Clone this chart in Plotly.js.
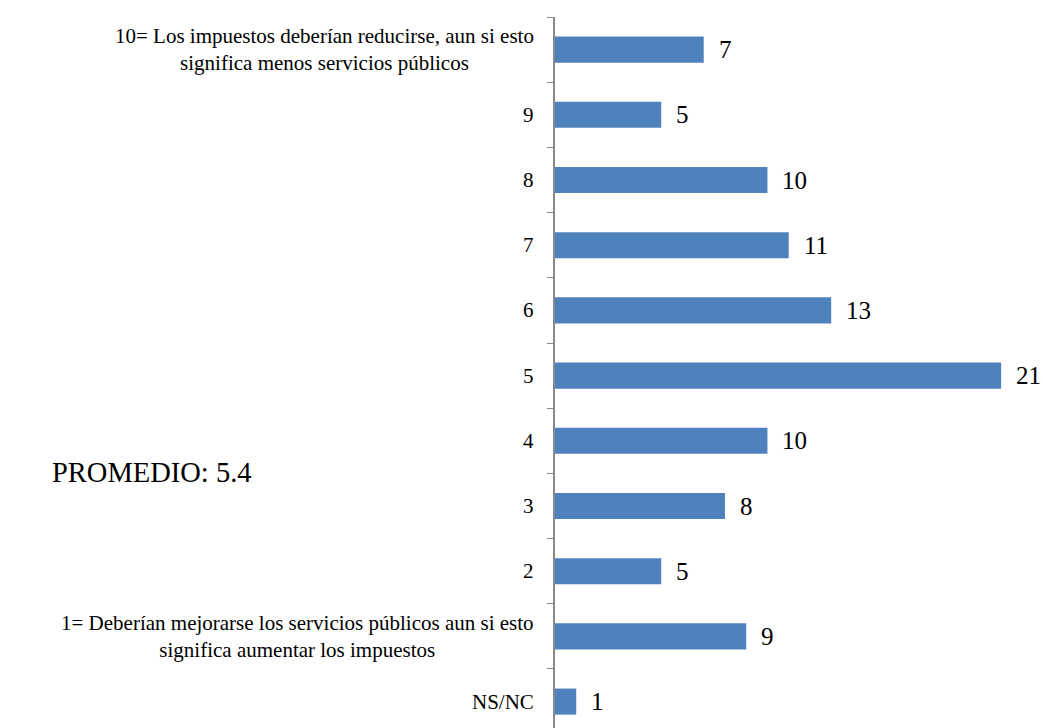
<!DOCTYPE html>
<html>
<head>
<meta charset="utf-8">
<script src="https://cdn.plot.ly/plotly-3.0.1.min.js"></script>
<style>
html,body{margin:0;padding:0;background:#fff;}
#chart{width:1043px;height:728px;}
</style>
</head>
<body>
<div id="chart"></div>
<script>
const categories = [
  "10= Los impuestos deberían reducirse, aun si esto<br>significa menos servicios públicos",
  "9", "8", "7", "6", "5", "4", "3", "2",
  "1= Deberían mejorarse los servicios públicos aun si esto<br>significa aumentar los impuestos",
  "NS/NC"
];
const values = [7, 5, 10, 11, 13, 21, 10, 8, 5, 9, 1];
const averageText = "PROMEDIO: 5.4";

const font = "Liberation Serif";

const annotations = [];
categories.forEach((c, i) => {
  annotations.push({
    text: c, xref: "paper", x: 0, yref: "y", y: i,
    xanchor: "right", yanchor: "middle", align: "center",
    xshift: -19, showarrow: false,
    font: {family: font, size: 21, color: "#000"}
  });
  annotations.push({
    text: String(values[i]), xref: "x", x: values[i], yref: "y", y: i,
    xanchor: "left", yanchor: "middle", xshift: 13, showarrow: false,
    font: {family: font, size: 25, color: "#000"}
  });
});
annotations.push({
  text: averageText, xref: "paper", x: -0.825, yref: "paper", y: 0.36,
  xanchor: "center", yanchor: "middle", showarrow: false,
  font: {family: font, size: 28.5, color: "#000"}
});

const trace = {
  type: "bar", orientation: "h",
  x: values, y: categories,
  marker: {color: "#4F81BD"},
  hoverinfo: "none"
};

const layout = {
  width: 1043, height: 728,
  margin: {l: 555, r: 0, t: 17, b: 0},
  paper_bgcolor: "#fff", plot_bgcolor: "#fff",
  showlegend: false,
  bargap: 0.6,
  font: {family: font},
  xaxis: {visible: false, range: [0, 22.97], fixedrange: true},
  yaxis: {
    type: "category", categoryorder: "array", categoryarray: categories,
    range: [10.405, -0.5],
    showticklabels: false, showgrid: false, zeroline: false,
    showline: true, linecolor: "#888", linewidth: 2,
    ticks: "outside", tickson: "boundaries", ticklen: 6, tickcolor: "#888", tickwidth: 1
  },
  annotations: annotations
};

Plotly.newPlot("chart", [trace], layout, {displayModeBar: false, staticPlot: true});
</script>
</body>
</html>
